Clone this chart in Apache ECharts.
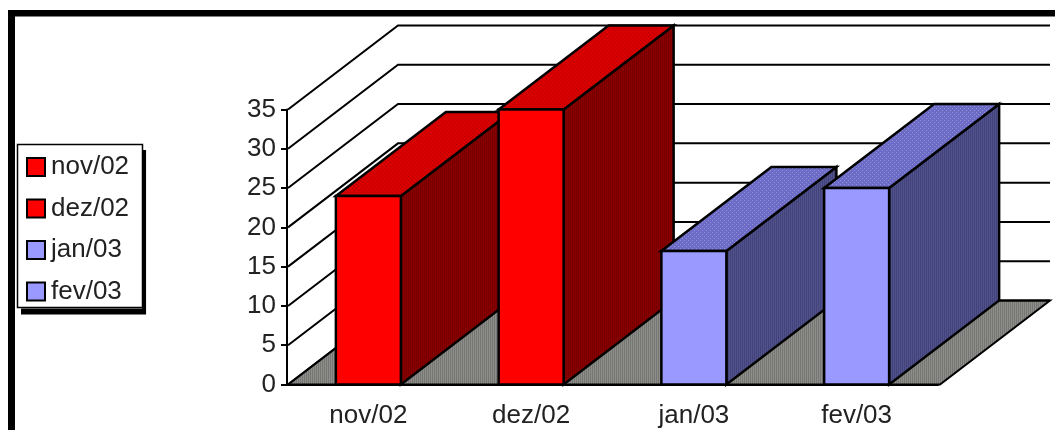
<!DOCTYPE html>
<html>
<head>
<meta charset="utf-8">
<style>html,body{margin:0;padding:0;background:#fff;}#chart{width:1055px;height:430px;}</style>
<script src="https://cdn.jsdelivr.net/npm/echarts@6/dist/echarts.min.js"></script>
</head>
<body>
<div id="chart"></div>
<script>
// Monthly values, one column per month
const categories = ['nov/02', 'dez/02', 'jan/03', 'fev/03'];
const values = [24, 35, 17, 25];
const yTicks = [0, 5, 10, 15, 20, 25, 30, 35];

// Oblique projection of the depth axis, in pixels
const DEPTH_X = 110;
const DEPTH_Y = 84;
const BAR_WIDTH = 65;
const FONT = '"Liberation Sans", Arial, sans-serif';

// Small repeating tiles give the faces their stippled, dithered look
function tile(size, base, ink, cells) {
  const c = document.createElement('canvas');
  c.width = c.height = size;
  const g = c.getContext('2d');
  g.fillStyle = base;
  g.fillRect(0, 0, size, size);
  g.fillStyle = ink;
  cells.forEach(p => g.fillRect(p[0], p[1], 1, 1));
  return { image: c, repeat: 'repeat' };
}
const dots = [[0, 0], [2, 2]];
const stripes = [[0, 0], [0, 1], [0, 2], [0, 3], [2, 0], [2, 1], [2, 2], [2, 3]];

const palette = {
  red: {
    front: '#ff0000',
    top: tile(4, '#d80000', '#b00000', dots),
    side: tile(4, '#8a0000', '#760000', stripes)
  },
  blue: {
    front: '#9999ff',
    top: tile(4, '#6c6cc8', '#9292cc', dots),
    side: tile(4, '#52528a', '#42427c', stripes)
  }
};
const floorFill = tile(4, '#8e8e88', '#767676', stripes);
const seriesTone = ['red', 'red', 'blue', 'blue'];

// Back wall, side wall and floor of the box
function renderPlane(params, api) {
  const cs = params.coordSys;
  const y = api.coord([0, api.value(0)])[1];
  const left = cs.x + 1;
  const right = cs.x + cs.width + 2;
  const line = { stroke: '#000', lineWidth: 2, fill: null };
  const children = [{
    type: 'polyline',
    shape: { points: [[left, y], [left + DEPTH_X, y - DEPTH_Y], [right + DEPTH_X, y - DEPTH_Y]] },
    style: line
  }];
  if (api.value(0) === 0) {
    children.unshift({
      type: 'polygon',
      shape: { points: [[left, y], [left + DEPTH_X, y - DEPTH_Y], [right + DEPTH_X, y - DEPTH_Y], [right, y]] },
      style: { fill: floorFill, stroke: '#000', lineWidth: 2 }
    });
  }
  return { type: 'group', children };
}

// One column: side and top faces drawn behind the front face
function renderColumn(params, api) {
  const tone = palette[seriesTone[api.value(0)]];
  const c = api.coord([api.value(0), api.value(1)]);
  const base = api.coord([api.value(0), 0]);
  const x0 = c[0] - BAR_WIDTH / 2;
  const x1 = c[0] + BAR_WIDTH / 2;
  const yt = c[1];
  const yb = base[1];
  const edge = { stroke: '#000', lineWidth: 2.5, lineJoin: 'miter' };
  return {
    type: 'group',
    children: [
      { type: 'polygon',
        shape: { points: [[x1, yt], [x1 + DEPTH_X, yt - DEPTH_Y], [x1 + DEPTH_X, yb - DEPTH_Y], [x1, yb]] },
        style: Object.assign({ fill: tone.side }, edge) },
      { type: 'polygon',
        shape: { points: [[x0, yt], [x0 + DEPTH_X, yt - DEPTH_Y], [x1 + DEPTH_X, yt - DEPTH_Y], [x1, yt]] },
        style: Object.assign({ fill: tone.top }, edge) },
      { type: 'polygon',
        shape: { points: [[x0, yt], [x1, yt], [x1, yb], [x0, yb]] },
        style: Object.assign({ fill: tone.front }, edge) }
    ]
  };
}

const chart = echarts.init(document.getElementById('chart'), null, { renderer: 'canvas' });

const columnSeries = categories.map((name, i) => ({
  name,
  type: 'custom',
  z: 3 + i,
  clip: false,
  silent: true,
  color: palette[seriesTone[i]].front,
  coordinateSystem: 'cartesian2d',
  renderItem: renderColumn,
  encode: { x: 0, y: 1 },
  data: [[i, values[i]]]
}));

chart.setOption({
  animation: false,
  backgroundColor: '#fff',
  textStyle: { fontFamily: FONT },
  grid: { left: 287, top: 109.5, width: 651, height: 275 },
  legend: {
    orient: 'vertical',
    left: 17,
    top: 144,
    padding: [10, 13, 4, 9],
    itemGap: 15.5,
    itemWidth: 18,
    itemHeight: 18,
    icon: 'rect',
    selectedMode: false,
    itemStyle: { borderColor: '#000', borderWidth: 2 },
    data: categories,
    textStyle: { fontSize: 26, color: '#222', fontFamily: FONT, padding: [0, 0, 0, 1] },
    backgroundColor: '#fff',
    borderWidth: 0,
    shadowColor: '#000',
    shadowOffsetX: 4,
    shadowOffsetY: 6,
    shadowBlur: 0
  },
  xAxis: {
    type: 'category',
    data: categories,
    axisLine: { show: true, lineStyle: { color: '#000', width: 2 } },
    axisTick: { show: false },
    axisLabel: { fontSize: 26, color: '#222', margin: 18, fontFamily: FONT, interval: 0 },
    splitLine: { show: false }
  },
  yAxis: {
    type: 'value',
    min: 0,
    max: 35,
    interval: 5,
    axisLine: { show: true, lineStyle: { color: '#000', width: 2 } },
    axisTick: { show: true, length: 6, lineStyle: { color: '#000', width: 2 } },
    axisLabel: { fontSize: 26, color: '#222', margin: 11, padding: [3, 0, 0, 0], fontFamily: FONT },
    splitLine: { show: false }
  },
  graphic: [
    // Heavy frame along the top and left edges of the page
    { type: 'rect', z: 100, shape: { x: 8, y: 10, width: 1047, height: 6.5 }, style: { fill: '#000' } },
    { type: 'rect', z: 100, shape: { x: 8, y: 10, width: 7, height: 420 }, style: { fill: '#000' } },
    // Thin outline around the legend box
    { type: 'rect', z: 100, shape: { x: 17.5, y: 144.5, width: 125, height: 163 }, style: { fill: null, stroke: '#000', lineWidth: 1.5 } }
  ],
  series: [{
    name: 'walls',
    type: 'custom',
    z: 1,
    clip: false,
    silent: true,
    coordinateSystem: 'cartesian2d',
    renderItem: renderPlane,
    encode: { y: 0 },
    data: yTicks.map(v => [v])
  }].concat(columnSeries)
});
</script>
</body>
</html>
